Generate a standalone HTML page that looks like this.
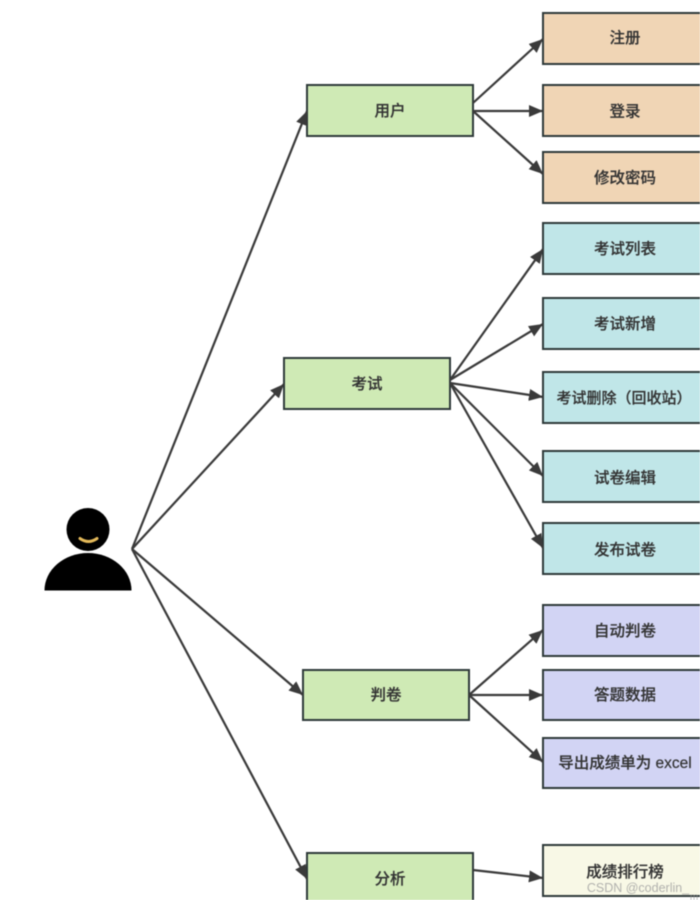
<!DOCTYPE html>
<html><head><meta charset="utf-8"><style>
html,body{margin:0;padding:0;background:#fff;width:700px;height:900px;overflow:hidden}
svg{display:block;filter:blur(.4px)}
text{font-family:"Liberation Sans","Noto Sans CJK SC",sans-serif;font-size:15.5px;fill:#333;text-anchor:middle;font-weight:500;stroke:#333;stroke-width:.2px}
.b{stroke:#2f3a3a;stroke-width:2}
.l{stroke:#3a3a3a;stroke-width:2.2;marker-end:url(#a);fill:none}
</style></head><body>
<svg width="700" height="900" viewBox="0 0 700 900" xmlns="http://www.w3.org/2000/svg">
<defs><marker id="a" markerUnits="userSpaceOnUse" markerWidth="16" markerHeight="14" refX="14" refY="6" orient="auto"><path d="M0 0L14 6L0 12Z" fill="#3a3a3a"/></marker></defs>
<g class="bx">
<rect class="b" x="307" y="85" width="166" height="51" fill="#cfeab5"/>
<rect class="b" x="284" y="358" width="166" height="51" fill="#cfeab5"/>
<rect class="b" x="303" y="670" width="166" height="50" fill="#cfeab5"/>
<rect class="b" x="307" y="853" width="166" height="52" fill="#cfeab5"/>
<rect class="b" x="543" y="13" width="160" height="51" fill="#f0d5b5"/>
<rect class="b" x="543" y="85" width="160" height="51" fill="#f0d5b5"/>
<rect class="b" x="543" y="152" width="160" height="51" fill="#f0d5b5"/>
<rect class="b" x="543" y="223" width="160" height="51" fill="#c0e6e8"/>
<rect class="b" x="543" y="298" width="160" height="51" fill="#c0e6e8"/>
<rect class="b" x="543" y="372" width="160" height="51" fill="#c0e6e8"/>
<rect class="b" x="543" y="451" width="160" height="51" fill="#c0e6e8"/>
<rect class="b" x="543" y="523" width="160" height="51" fill="#c0e6e8"/>
<rect class="b" x="543" y="605" width="160" height="51" fill="#d2d4f4"/>
<rect class="b" x="543" y="670" width="160" height="50" fill="#d2d4f4"/>
<rect class="b" x="543" y="738" width="160" height="50" fill="#d2d4f4"/>
<rect class="b" x="543" y="845" width="160" height="51" fill="#f8f8e6"/>
</g>
<line class="l" x1="132" y1="549" x2="307" y2="111"/>
<line class="l" x1="132" y1="549" x2="284" y2="384"/>
<line class="l" x1="132" y1="549" x2="303" y2="695"/>
<line class="l" x1="132" y1="549" x2="307" y2="879"/>
<line class="l" x1="473" y1="103" x2="543" y2="39"/>
<line class="l" x1="473" y1="111" x2="543" y2="111"/>
<line class="l" x1="473" y1="111" x2="543" y2="174"/>
<line class="l" x1="450" y1="380" x2="543" y2="249"/>
<line class="l" x1="450" y1="380" x2="543" y2="324"/>
<line class="l" x1="450" y1="383" x2="543" y2="397"/>
<line class="l" x1="450" y1="383" x2="543" y2="476"/>
<line class="l" x1="450" y1="383" x2="543" y2="548"/>
<line class="l" x1="469" y1="695" x2="543" y2="630"/>
<line class="l" x1="469" y1="695" x2="543" y2="695"/>
<line class="l" x1="469" y1="695" x2="543" y2="762"/>
<line class="l" x1="473" y1="870" x2="543" y2="878"/>
<circle cx="88" cy="529.5" r="21.5" fill="#000"/>
<path d="M44.5 590.5A43.5 37.5 0 0 1 131.5 590.5Z" fill="#000"/>
<path d="M80 538.5Q88.500 544.500 97 538.500" stroke="#e3b95a" stroke-width="3" fill="none" stroke-linecap="round"/>
<text x="390" y="116">用户</text>
<text x="367" y="389">考试</text>
<text x="386" y="700">判卷</text>
<text x="390" y="884">分析</text>
<text x="625" y="43">注册</text>
<text x="625" y="116.500">登录</text>
<text x="625" y="183">修改密码</text>
<text x="625" y="254">考试列表</text>
<text x="625" y="329">考试新增</text>
<text x="624" y="403" style="font-size:15px">考试删除（回收站）</text>
<text x="625" y="483">试卷编辑</text>
<text x="625" y="555">发布试卷</text>
<text x="625" y="636">自动判卷</text>
<text x="625" y="700">答题数据</text>
<text x="625" y="768">导出成绩单为 excel</text>
<text x="625" y="877">成绩排行榜</text>
<text x="638" y="892" style="font-size:12.500px;font-weight:400;fill:#a0a0a0;stroke:none;opacity:.8">CSDN @coderlin_</text>
<text x="694" y="900" style="font-size:10px;font-weight:400;fill:#8a8a8a;stroke:none;opacity:.6">m</text>
</svg>
</body></html>
